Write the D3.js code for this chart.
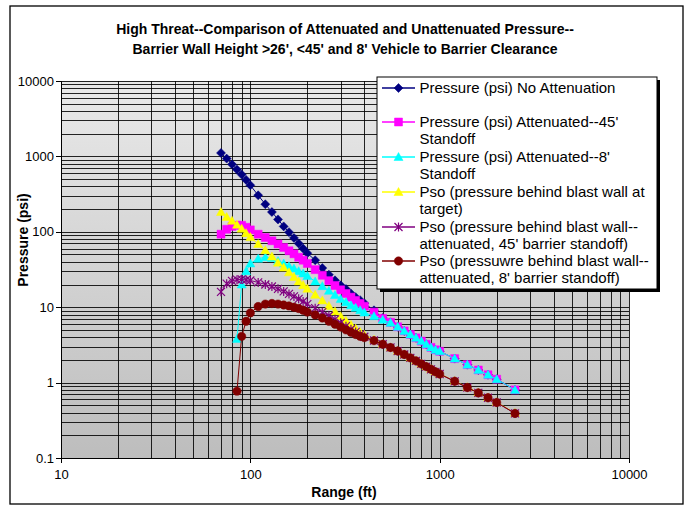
<!DOCTYPE html>
<html><head><meta charset="utf-8">
<script src="https://cdn.jsdelivr.net/npm/d3@7"></script>
<style>
body{margin:0;background:#fff;}
svg{display:block;font-family:"Liberation Sans",Arial,sans-serif;}
</style>
</head><body>
<svg id="chart" width="688" height="506"></svg>
<script>
// ---- data ----
const ranges = [70,75,80,85,90,95,100,110,120,130,140,150,160,170,180,190,200,220,240,260,280,300,320,340,360,380,400,450,500,550,600,650,700,750,800,850,900,950,1000,1200,1400,1600,1800,2000,2500];
const pressureNoAtten = [1110,935,785,668,574,488,414,305,232,183,146,118,99,83,70,60,52,42,33,27,22.7,19.5,17.4,15.2,13.6,12.4,11.3,9.1,7.2,6.3,5.5,4.85,4.35,3.92,3.55,3.22,2.93,2.72,2.6,2.08,1.73,1.47,1.27,1.11,0.8];
const pressureAtten45 = [93,108,118,122,122,115,106,93,84,76,69,62,56,51,46,42,38,31.5,26.5,22.5,19.4,17,15.2,13.6,12.3,11.2,10.3,8.6,7.1,6.3,5.5,4.85,4.35,3.92,3.55,3.22,2.93,2.72,2.6,2.08,1.73,1.47,1.27,1.11,0.8];
const pressureAtten8 = [null,null,null,3.8,20,30,38,44,46,45,41,38,35,32.5,30,28,26,22,19,16.5,14.5,12.8,11.6,10.6,9.8,9.1,8.5,7.6,6.8,6.2,5.5,4.85,4.35,3.92,3.55,3.22,2.93,2.72,2.6,2.08,1.73,1.47,1.27,1.11,0.8];
const psoTarget = [183,157,140,124,110,96,85,69,57,47,39,33.5,29,25.2,22,19.6,17.6,14.6,12.3,10.4,8.8,7.6,6.6,5.85,5.2,4.7,4.3,3.7,3.25,2.93,2.63,2.37,2.14,1.95,1.78,1.64,1.51,1.4,1.31,1.05,0.87,0.74,0.635,0.55,0.395];
const psoAtten45 = [16,20.5,22.3,23.2,23.4,23,22.6,21.3,20,18.8,17.5,16.2,15,13.9,12.9,11.9,11,9.7,8.6,7.7,6.9,6.2,5.6,5.1,4.7,4.35,4.05,3.62,3.23,2.92,2.62,2.36,2.13,1.94,1.77,1.63,1.5,1.39,1.3,1.04,0.86,0.73,0.63,0.545,0.39];
const psoAtten8 = [null,null,null,0.77,4.1,6.5,8.4,10.2,11.0,11.2,11.0,10.7,10.4,10.0,9.6,9.1,8.6,7.9,7.2,6.5,5.95,5.45,5.0,4.65,4.35,4.1,3.95,3.6,3.22,2.92,2.62,2.36,2.13,1.94,1.77,1.63,1.5,1.39,1.3,1.04,0.86,0.73,0.63,0.545,0.39];

const seriesNames = [
  ["Pressure (psi) No Attenuation"],
  ["Pressure (psi) Attenuated--45'","Standoff"],
  ["Pressure (psi) Attenuated--8'","Standoff"],
  ["Pso (pressure behind blast wall at","target)"],
  ["Pso (pressure behind blast wall--","attenuated, 45' barrier standoff)"],
  ["Pso (pressuwre behind blast wall--","attenuated, 8' barrier standoff)"]
];
const seriesValues = [pressureNoAtten, pressureAtten45, pressureAtten8, psoTarget, psoAtten45, psoAtten8];
const seriesColors = ["#000080","#FF00FF","#00FFFF","#FFFF00","#800080","#800000"];
const seriesMarkers = ["diamond","square","triangle","triangle","star","circle"];

const xTicks = [10,100,1000,10000];
const yTicks = [0.1,1,10,100,1000,10000];
const titleLines = ["High Threat--Comparison of Attenuated and Unattenuated Pressure--","Barrier Wall Height >26', <45' and 8' Vehicle to Barrier Clearance"];

// ---- layout ----
const svg = d3.select("#chart");
const L = 61, R = 629, T = 81, B = 458;
const x = d3.scaleLog().domain([10,10000]).range([L,R]);
const y = d3.scaleLog().domain([0.1,10000]).range([B,T]);

// chart frame
svg.append("rect").attr("x",10).attr("y",6).attr("width",673).attr("height",498)
  .attr("fill","#fff").attr("stroke","#000").attr("stroke-width",1.3);

// plot gradient
const defs = svg.append("defs");
const g = defs.append("linearGradient").attr("id","bg").attr("x1",0).attr("y1",0).attr("x2",0).attr("y2",1);
g.append("stop").attr("offset","0%").attr("stop-color","#e9e9e9");
g.append("stop").attr("offset","100%").attr("stop-color","#bdbdbd");
svg.append("rect").attr("x",L).attr("y",T).attr("width",R-L).attr("height",B-T).attr("fill","url(#bg)");

// grid
const xGrid = [];
[10,100,1000].forEach(d=>{for(let k=1;k<=9;k++) xGrid.push(d*k);}); xGrid.push(10000);
const yGrid = [];
[0.1,1,10,100,1000].forEach(d=>{for(let k=1;k<=9;k++) yGrid.push(+(d*k).toPrecision(3));}); yGrid.push(10000);
const grid = svg.append("g").attr("stroke","#000").attr("stroke-width",1).attr("shape-rendering","crispEdges");
grid.selectAll(".gx").data(xGrid).join("line").attr("x1",d=>Math.round(x(d))+0.5).attr("x2",d=>Math.round(x(d))+0.5).attr("y1",T).attr("y2",B).attr("stroke-opacity",0.85);
grid.selectAll(".gy").data(yGrid).join("line").attr("y1",d=>Math.round(y(d))+0.5).attr("y2",d=>Math.round(y(d))+0.5).attr("x1",L).attr("x2",R).attr("stroke-opacity",0.85);

// axes
const fmt = d => d < 1 ? String(d) : String(d);
const yAxis = svg.append("g").attr("transform",`translate(${L},0)`)
  .call(d3.axisLeft(y).tickValues(yTicks).tickFormat(fmt).tickSize(5).tickSizeOuter(0));
const xAxis = svg.append("g").attr("transform",`translate(0,${B})`)
  .call(d3.axisBottom(x).tickValues(xTicks).tickFormat(fmt).tickSize(5).tickSizeOuter(0));
[yAxis,xAxis].forEach(a=>{
  a.selectAll("path,line").attr("stroke","#000").attr("shape-rendering","crispEdges");
  a.selectAll("text").attr("font-size",13).attr("fill","#000").attr("font-family","'Liberation Sans',Arial,sans-serif");
});
yAxis.selectAll("text").attr("x",-7);
xAxis.selectAll("text").attr("y",12);

// titles
svg.selectAll(".title").data(titleLines).join("text")
  .attr("x",345).attr("y",(d,i)=>34+i*19.5).attr("text-anchor","middle")
  .attr("font-size",14).attr("font-weight","bold").text(d=>d);
svg.append("text").attr("x",344).attr("y",497).attr("text-anchor","middle")
  .attr("font-size",14).attr("font-weight","bold").text("Range (ft)");
svg.append("text").attr("transform","translate(28,240) rotate(-90)").attr("text-anchor","middle")
  .attr("font-size",14).attr("font-weight","bold").text("Pressure (psi)");

// markers
function markerPath(type){
  switch(type){
    case "diamond": return "M0,-4.5L4.5,0L0,4.5L-4.5,0Z";
    case "square": return "M-4,-4H4V4H-4Z";
    case "triangle": return "M0,-4.5L4.5,3.5L-4.5,3.5Z";
    case "circle": return "M4.2,0A4.2,4.2 0 1,1 -4.2,0A4.2,4.2 0 1,1 4.2,0Z";
    case "star": return "M-4,-4L4,4M-4,4L4,-4M0,-4.5L0,4.5";
  }
}
function drawMarker(sel, type, color){
  const p = sel.append("path").attr("d", markerPath(type));
  if(type==="star") p.attr("fill","none").attr("stroke",color).attr("stroke-width",1.2);
  else p.attr("fill",color).attr("stroke",color).attr("stroke-width",0.5);
}

const plot = svg.append("g");
seriesValues.forEach((vals,si)=>{
  const pts = ranges.map((r,i)=>[r,vals[i]]).filter(p=>p[1]!=null);
  const line = d3.line().x(p=>x(p[0])).y(p=>y(p[1]));
  plot.append("path").attr("d",line(pts)).attr("fill","none").attr("stroke",seriesColors[si]).attr("stroke-width",1);
  pts.forEach(p=>{
    const m = plot.append("g").attr("transform",`translate(${x(p[0])},${y(p[1])})`);
    drawMarker(m, seriesMarkers[si], seriesColors[si]);
  });
});

// legend
const lg = svg.append("g");
const LX = 377, LY = 77, LW = 280, LH = 212;
lg.append("rect").attr("x",LX+3).attr("y",LY+3).attr("width",LW).attr("height",LH).attr("fill","#000");
lg.append("rect").attr("x",LX).attr("y",LY).attr("width",LW).attr("height",LH).attr("fill","#fff").attr("stroke","#000").attr("stroke-width",1);
const rowY = [88,122,157,192,227,261];
seriesNames.forEach((lines,si)=>{
  const cy = rowY[si];
  lg.append("line").attr("x1",382).attr("x2",415).attr("y1",cy).attr("y2",cy).attr("stroke",seriesColors[si]).attr("stroke-width",1.5);
  const m = lg.append("g").attr("transform",`translate(398.5,${cy})`);
  drawMarker(m, seriesMarkers[si], seriesColors[si]);
  lines.forEach((t,li)=>{
    lg.append("text").attr("x",419.5).attr("y",cy+5+li*17).attr("font-size",15).attr("fill","#000").text(t);
  });
});
</script>
</body></html>
